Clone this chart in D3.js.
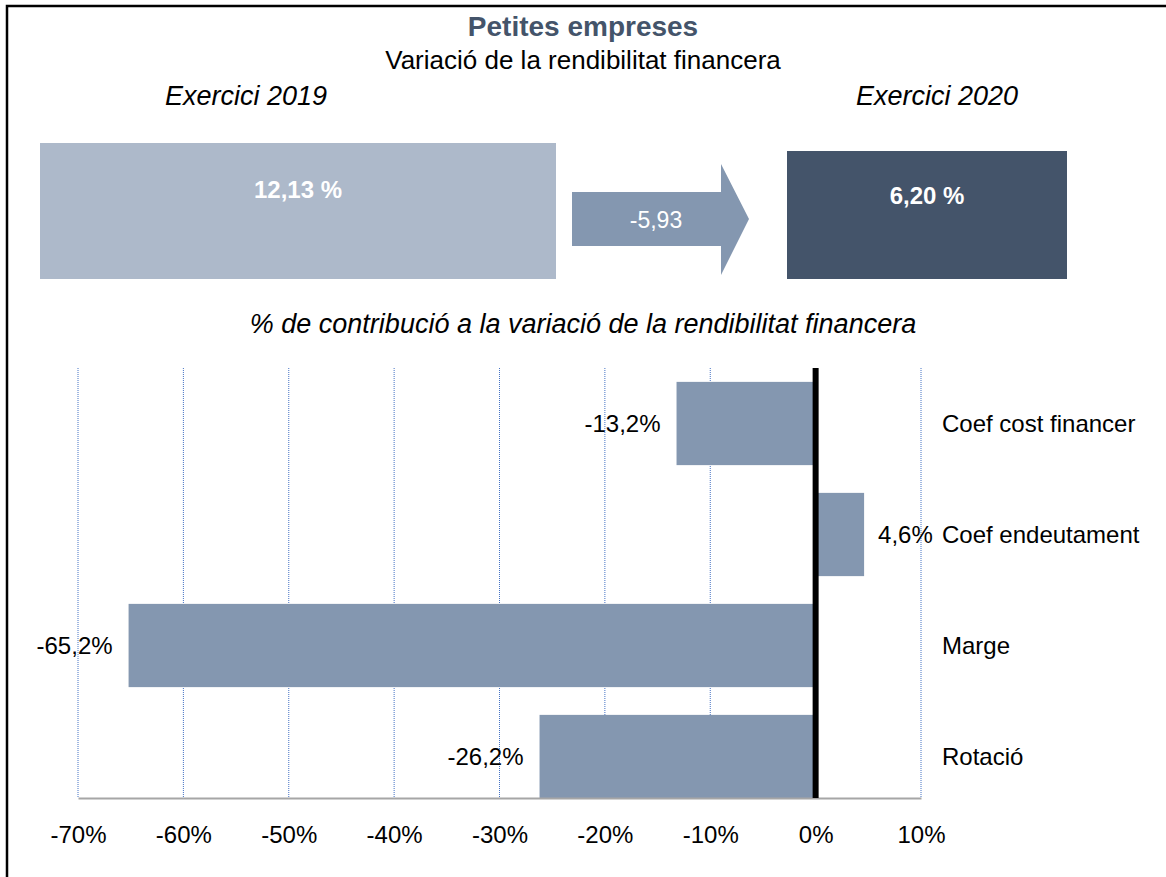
<!DOCTYPE html>
<html lang="ca">
<head>
	<meta charset="UTF-8">
	<title>Petites empreses</title>
	<script src="https://cdn.jsdelivr.net/npm/d3@7"></script>
	<style>
		body { margin: 0; background: #fff; }
		svg text { font-family: "Liberation Sans", Arial, sans-serif; }
	</style>
</head>
<body>
<script>
	// data
	var categories = ['Coef cost financer', 'Coef endeutament', 'Marge', 'Rotació'];
	var values = [-13.2, 4.6, -65.2, -26.2];
	var tickValues = [-70, -60, -50, -40, -30, -20, -10, 0, 10];
	var years = ['Exercici 2019', 'Exercici 2020'];
	var rates = [12.13, 6.20];
	var change = -5.93;

	var W = 1166, H = 877;
	var fmt = function (v, d) { return v.toFixed(d).replace('.', ','); };

	var svg = d3.select('body').append('svg')
		.attr('width', W)
		.attr('height', H);

	// outer frame
	svg.append('rect')
		.attr('x', 7).attr('y', 6)
		.attr('width', W + 10).attr('height', H + 10)
		.attr('fill', 'none')
		.attr('stroke', '#000')
		.attr('stroke-width', 2.5);

	// titles
	svg.append('text')
		.attr('x', 583).attr('y', 36)
		.attr('text-anchor', 'middle')
		.style('font-size', '28px').style('font-weight', 'bold')
		.attr('fill', '#44546a')
		.text('Petites empreses');
	svg.append('text')
		.attr('x', 583).attr('y', 69)
		.attr('text-anchor', 'middle')
		.style('font-size', '26px')
		.text('Variació de la rendibilitat financera');

	var yearX = [246, 937];
	svg.selectAll('.year')
		.data(years)
		.enter().append('text')
		.attr('class', 'year')
		.attr('x', function (d, i) { return yearX[i]; })
		.attr('y', 105)
		.attr('text-anchor', 'middle')
		.style('font-size', '27px').style('font-style', 'italic')
		.text(function (d) { return d; });

	// top boxes
	var boxes = [
		{x: 40, y: 143, w: 516, h: 136, fill: '#adb9ca', ty: 198},
		{x: 787, y: 151, w: 280, h: 128, fill: '#44546a', ty: 204}
	];
	boxes.forEach(function (b, i) {
		svg.append('rect')
			.attr('x', b.x).attr('y', b.y)
			.attr('width', b.w).attr('height', b.h)
			.attr('fill', b.fill);
		svg.append('text')
			.attr('x', b.x + b.w / 2).attr('y', b.ty)
			.attr('text-anchor', 'middle')
			.attr('fill', '#fff')
			.style('font-size', '24px').style('font-weight', 'bold')
			.text(fmt(rates[i], 2) + ' %');
	});

	// arrow
	svg.append('path')
		.attr('d', d3.line()([[572, 192], [721, 192], [721, 164], [749, 219], [721, 275], [721, 246], [572, 246]]) + 'Z')
		.attr('fill', '#8497b0');
	svg.append('text')
		.attr('x', 656).attr('y', 228)
		.attr('text-anchor', 'middle')
		.attr('fill', '#fff')
		.style('font-size', '23px')
		.text(fmt(change, 2));

	svg.append('text')
		.attr('x', 583).attr('y', 333)
		.attr('text-anchor', 'middle')
		.style('font-size', '27px').style('font-style', 'italic')
		.text('% de contribució a la variació de la rendibilitat financera');

	// bar chart
	var plotTop = 368, plotBase = 798;
	var x = d3.scaleLinear().domain([-70, 10]).range([78, 921]);
	var y = d3.scaleBand().domain(categories).range([plotTop, 812])
		.paddingInner(0.25).paddingOuter(0.125);

	var grid = svg.append('g');
	grid.selectAll('line')
		.data(tickValues.filter(function (t) { return t !== 0; }))
		.enter().append('line')
		.attr('x1', function (d) { return x(d); })
		.attr('x2', function (d) { return x(d); })
		.attr('y1', plotTop).attr('y2', plotBase)
		.attr('stroke', '#4472c4')
		.attr('stroke-width', 1)
		.attr('stroke-dasharray', '1,1');

	svg.selectAll('.bar')
		.data(values)
		.enter().append('rect')
		.attr('class', 'bar')
		.attr('x', function (d) { return x(Math.min(0, d)); })
		.attr('width', function (d) { return Math.abs(x(d) - x(0)); })
		.attr('y', function (d, i) { return y(categories[i]); })
		.attr('height', y.bandwidth())
		.attr('fill', '#8497b0');

	var xAxis = svg.append('g')
		.attr('transform', 'translate(0,' + plotBase + ')')
		.call(d3.axisBottom(x).tickValues(tickValues).tickSize(0).tickPadding(28)
			.tickFormat(function (d) { return d + '%'; }));
	xAxis.select('.domain').attr('stroke', '#a6a6a6').attr('stroke-width', 2);
	xAxis.selectAll('text')
		.style('font-size', '24px')
		.attr('fill', '#000');

	// zero line
	svg.append('line')
		.attr('x1', x(0)).attr('x2', x(0))
		.attr('y1', plotTop).attr('y2', plotBase)
		.attr('stroke', '#000')
		.attr('stroke-width', 6);

	// value labels
	svg.selectAll('.val')
		.data(values)
		.enter().append('text')
		.attr('class', 'val')
		.attr('x', function (d) { return d < 0 ? x(d) - 16 : x(d) + 14; })
		.attr('y', function (d, i) { return y(categories[i]) + y.bandwidth() / 2; })
		.attr('dy', '0.35em')
		.attr('text-anchor', function (d) { return d < 0 ? 'end' : 'start'; })
		.style('font-size', '24px')
		.text(function (d) { return fmt(d, 1) + '%'; });

	// category labels
	svg.selectAll('.cat')
		.data(categories)
		.enter().append('text')
		.attr('class', 'cat')
		.attr('x', 942)
		.attr('y', function (d) { return y(d) + y.bandwidth() / 2; })
		.attr('dy', '0.35em')
		.style('font-size', '24px')
		.text(function (d) { return d; });
</script>
</body>
</html>
